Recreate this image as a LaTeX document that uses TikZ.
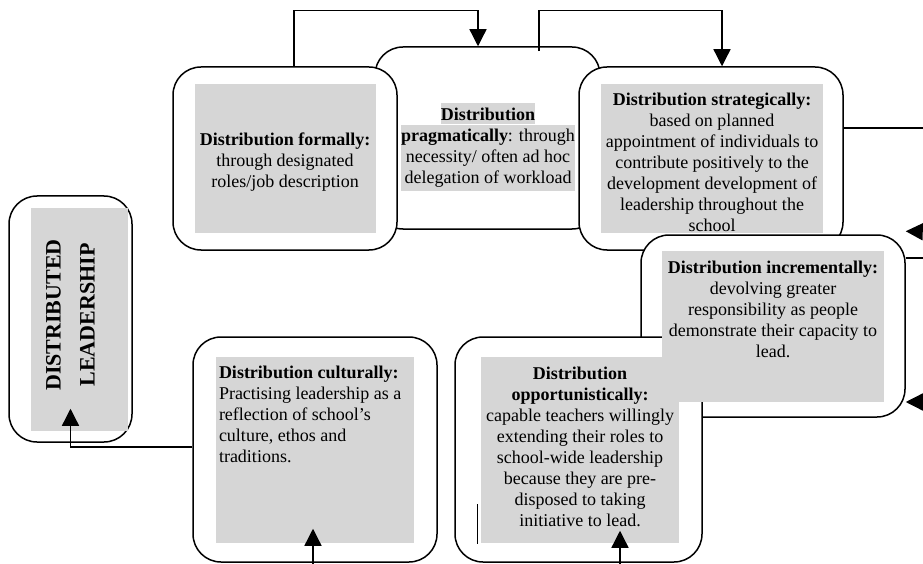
\documentclass[tikz,border=0pt]{standalone}
\usepackage{fontspec}
\setmainfont{Liberation Serif}
\usetikzlibrary{arrows.meta,positioning}
\definecolor{panelgray}{RGB}{214,214,214}
\tikzset{
  stage/.style = {draw, line width=1.5pt, rounded corners=28pt, fill=white, inner sep=0pt},
  panel/.style = {fill=panelgray, inner sep=0pt},
  stagetext/.style = {font=\fontsize{18}{21}\selectfont, align=center, inner sep=0pt},
  link/.style = {line width=1.3pt, -{Triangle[width=17pt,length=17pt]}},
  plainlink/.style = {line width=1.3pt},
}

\begin{document}
\begin{tikzpicture}[x=1pt,y=-1pt]
  \clip (0,0) rectangle (923,564);
  % boxes
  \node[stage, minimum width=225pt, minimum height=182pt] (prag) at (487.5,138) {};
  \node[stage, minimum width=224pt, minimum height=183pt] (form) at (285,158.5) {};
  \node[stage, minimum width=264pt, minimum height=183pt] (strat) at (711,158.5) {};
  \node[stage, minimum width=264pt, minimum height=182pt] (incr) at (773,326) {};
  \node[stage, minimum width=247pt, minimum height=225pt] (oppo) at (578.5,449.5) {};
  \node[stage, minimum width=244pt, minimum height=225pt] (cult) at (315,449.5) {};
  \node[stage, minimum width=123pt, minimum height=246pt] (dl) at (70.5,319) {};
  % grey panels
  \node[panel, minimum width=181pt, minimum height=149pt] (formpanel) at (form.center) {};
  \node[panel, minimum width=222pt, minimum height=149pt] (stratpanel) at ([xshift=1pt]strat.center) {};
  \node[panel, minimum width=222pt, minimum height=151pt] (incrpanel) at (incr.center) {};
  \node[panel, minimum width=198pt, minimum height=186pt] (oppopanel) at ([xshift=1.5pt]oppo.center) {};
  \node[panel, minimum width=198pt, minimum height=186pt] (cultpanel) at (cult.center) {};
  \node[panel, minimum width=97pt, minimum height=223pt] (dlpanel) at ([xshift=9pt]dl.center) {};
  % texts
  \node[stagetext] (formtext) at ([yshift=-4pt]formpanel.center)
    {\textbf{Distribution formally:}\\through designated\\roles/job description};
  \node[panel, stagetext, inner ysep=4pt] (pragtext) at ([xshift=0.5pt,yshift=-20pt]prag.center)
    {\textbf{pragmatically}: through\\necessity/ often ad hoc\\delegation of workload};
  \node[panel, stagetext, minimum height=21pt, above=0pt of pragtext] (pragtitle) {\textbf{Distribution}};
  \node[stagetext, below=9pt of stratpanel.north] (strattext)
    {\textbf{Distribution strategically:}\\based on planned\\appointment of individuals to\\contribute positively to the\\development development of\\leadership throughout the\\school};
  \node[stagetext, below=11pt of incrpanel.north] (incrtext)
    {\textbf{Distribution incrementally:}\\devolving greater\\responsibility as people\\demonstrate their capacity to\\lead.};
  \node[stagetext, below=11pt of oppopanel.north] (oppotext)
    {\textbf{Distribution}\\\textbf{opportunistically:}\\capable teachers willingly\\extending their roles to\\school-wide leadership\\because they are pre-\\disposed to taking\\initiative to lead.};
  \node[stagetext, align=left, anchor=north west] (culttext) at ([xshift=3pt,yshift=-10pt]cultpanel.north west)
    {\textbf{Distribution culturally:}\\Practising leadership as a\\reflection of school’s\\culture, ethos and\\traditions.};
  \node[rotate=90, align=center, font=\fontsize{22}{34}\selectfont\bfseries] (dltext) at ([yshift=4pt]dl.center)
    {DISTRIBUTED\\LEADERSHIP};
  % connectors
  \coordinate (edgeA) at (930,128);
  \coordinate (edgeB) at (930,232);
  \coordinate (edgeC) at (930,258);
  \coordinate (edgeD) at (930,402);
  \coordinate (belowC) at (313,575);
  \coordinate (belowO) at (620,575);
  \draw[link] ([xshift=9pt]form.north) -- ++(0,-56) -| ([xshift=-9.5pt]prag.north);
  \draw[link] ([xshift=51.5pt,yshift=-5pt]prag.north) -- ++(0,-41) -| ([xshift=11pt]strat.north);
  \draw[plainlink] ([yshift=30.5pt]strat.east) -- (edgeA);
  \draw[link] (edgeB) -- ([yshift=3pt]incr.north east);
  \draw[plainlink] ([yshift=68pt]incr.east) -- (edgeC);
  \draw[link] (edgeD) -- ([yshift=-76pt]incr.east);
  \draw[link] ([yshift=2.5pt]cult.west) -| ([yshift=34pt]dl.south);
  \draw[link] (belowC) -- ([xshift=-2pt,yshift=34pt]cult.south);
  \draw[link] (belowO) -- ([xshift=41.5pt,yshift=32pt]oppo.south);
  \draw[line width=1pt] ([xshift=23pt,yshift=19pt]oppo.south west) -- ++(0,-40);
\end{tikzpicture}
\end{document}
